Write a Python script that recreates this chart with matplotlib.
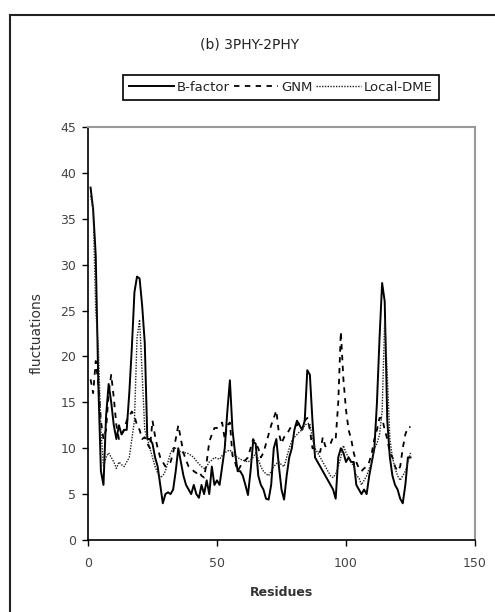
import numpy as np
from matplotlib import pyplot as plt
from matplotlib.lines import Line2D

plt.rcParams['font.family'] = ['DejaVu Sans']

residues = list(range(1, 126))

# B-factor (solid)
bfactor = [38.4, 36, 31, 17, 7.5, 6, 13.5, 17, 15, 12.5,
           11, 12.5, 11.5, 12, 12, 16, 21, 27, 28.7, 28.5,
           25.5, 21.5, 11, 11, 10.5, 9, 8, 6, 4, 5,
           5.2, 5, 5.5, 7.5, 10, 8.5, 7, 6, 5.5, 5,
           6, 5, 4.6, 6, 5, 6.5, 5, 8, 6, 6.5,
           6, 8, 10, 14, 17.4, 12, 9.5, 7.5, 7.5, 7,
           6, 4.9, 7.5, 10.7, 10.5, 7, 6, 5.5, 4.5, 4.4,
           6, 10, 11, 8, 5.5, 4.4, 7, 9, 10, 12,
           13, 12.5, 12, 13, 18.5, 18, 13, 9, 8.5, 8,
           7.5, 7, 6.5, 6, 5.5, 4.5, 9, 10, 9.5, 8.5,
           9, 8.5, 8.5, 6, 5.5, 5, 5.5, 5, 7, 8.5,
           10, 15, 22, 28, 26, 13, 9, 7, 6, 5.5,
           4.5, 4, 6, 9, 9]

# GNM (dashed)
gnm = [17.5, 16, 19.5, 17, 13, 11, 12, 16, 18, 15.5,
       12.5, 11, 11.5, 12, 13, 13.5, 14, 13.5, 12.5, 12,
       11, 11.2, 10.5, 10, 13, 11.3, 10, 9, 8.5, 8,
       8.2, 8.5, 9.5, 11, 12.5, 11, 9.5, 8.7, 8, 7.8,
       7.5, 7.3, 7.5, 7, 6.8, 8.5, 10.7, 11.5, 12.2, 12.2,
       12.5, 12.8, 11, 12.5, 12.8, 9.2, 8.5, 7.5, 8, 8.5,
       8.7, 9, 10, 11, 10.5, 10, 9, 9.5, 10.5, 11.5,
       12.5, 13.3, 14.1, 11.6, 10.5, 11.2, 11.5, 12, 12.5, 12.5,
       12.5, 12.8, 13, 13, 13.3, 12, 10, 10, 9.6, 9.6,
       11.2, 10.2, 10.5, 10.5, 11.2, 11, 15, 22.7, 17.5, 14.2,
       12, 11, 9.5, 8.5, 7.8, 7.5, 7.8, 8, 8.5, 9.5,
       11, 12, 13.3, 13.3, 12, 11, 9.5, 9, 8, 7.5,
       8, 10, 11.5, 12.3, 12.3]

# Local-DME (dotted)
local_dme = [37.5, 36, 25, 21, 12, 8, 9, 9.5, 9, 8.5,
             7.8, 8.5, 8.2, 8, 8.5, 9, 11, 13, 22, 24,
             18, 12, 11, 10, 9, 8, 7.3, 6.8, 7, 7.5,
             8.5, 9.5, 10, 10, 9.8, 9.6, 9.5, 9.5, 9.4, 9.2,
             9, 8.6, 8.3, 8, 7.8, 8, 8.5, 8.7, 9, 8.9,
             8.8, 9.2, 9.5, 9.7, 9.8, 9.5, 9.2, 9, 8.8, 8.7,
             8.6, 8.5, 8.7, 9, 9.5, 8.8, 8, 7.5, 7.2, 7,
             7.5, 8, 8.3, 8.5, 8.2, 8, 9, 10, 10.8, 11.2,
             11.5, 11.8, 12, 12.5, 12.7, 12.7, 11, 10, 9.5, 9,
             8.5, 8, 7.5, 7, 6.8, 7.2, 8, 9, 10.3, 9.5,
             9, 8.5, 8, 7, 6.8, 6, 6.5, 7, 7.8, 8.5,
             10, 10.5, 11.5, 14, 24, 18, 11, 9, 7.8, 7,
             6.5, 7, 7.5, 8.5, 9.5]

fig = plt.figure(figsize=(4.95, 6.12), dpi=100)
ax = fig.add_axes([88 / 495, 1 - 540 / 612, 387 / 495, 413 / 612])

l1, = ax.plot(residues, bfactor, color='black', lw=1.4, ls='-')
l2, = ax.plot(residues, gnm, color='black', lw=1.3, ls=(0, (3, 3)))
l3, = ax.plot(residues, local_dme, color='#222222', lw=1.0, ls=(0, (1, 1)))

ax.set_xlim(0, 150)
ax.set_ylim(0, 45)
ax.set_xticks([0, 50, 100, 150])
ax.set_yticks(np.arange(0, 50, 5))
ax.tick_params(axis='both', direction='out', length=4.5, width=1, colors='black',
               labelsize=9, labelcolor='#444444')
ax.tick_params(axis='x', pad=8)
ax.tick_params(axis='y', pad=4)

for s in ['left', 'bottom']:
    ax.spines[s].set_color('black')
    ax.spines[s].set_linewidth(1.2)
for s in ['top', 'right']:
    ax.spines[s].set_color('#999999')
    ax.spines[s].set_linewidth(1.5)

ax.set_xlabel('Residues', fontsize=9, fontweight='bold', color='#333333', labelpad=11)
ax.set_ylabel('fluctuations', fontsize=10, color='#333333', labelpad=12)

fig.text(250 / 495, 1 - 45 / 612, '(b) 3PHY-2PHY', ha='center', va='center',
         fontsize=10, color='#222222')

leg = fig.legend([l1, l2, l3], ['B-factor', 'GNM', 'Local-DME'],
                 loc='center', bbox_to_anchor=(281 / 495, 1 - 87.5 / 612),
                 ncol=3, fontsize=9.5, handlelength=3.4, handletextpad=0.2,
                 columnspacing=0.3, fancybox=False, framealpha=1,
                 borderpad=0.45, borderaxespad=0)
leg.get_frame().set_edgecolor('black')
leg.get_frame().set_linewidth(1.2)
for t in leg.get_texts():
    t.set_color('#222222')

# outer chart border (cut off at right and bottom)
fig.add_artist(Line2D([10 / 495, 10 / 495], [0, 1 - 15 / 612],
                      transform=fig.transFigure, color='#222222', lw=1.5))
fig.add_artist(Line2D([10 / 495, 1], [1 - 15 / 612, 1 - 15 / 612],
                      transform=fig.transFigure, color='#222222', lw=1.5))

fig.savefig('out.png', dpi=100)
